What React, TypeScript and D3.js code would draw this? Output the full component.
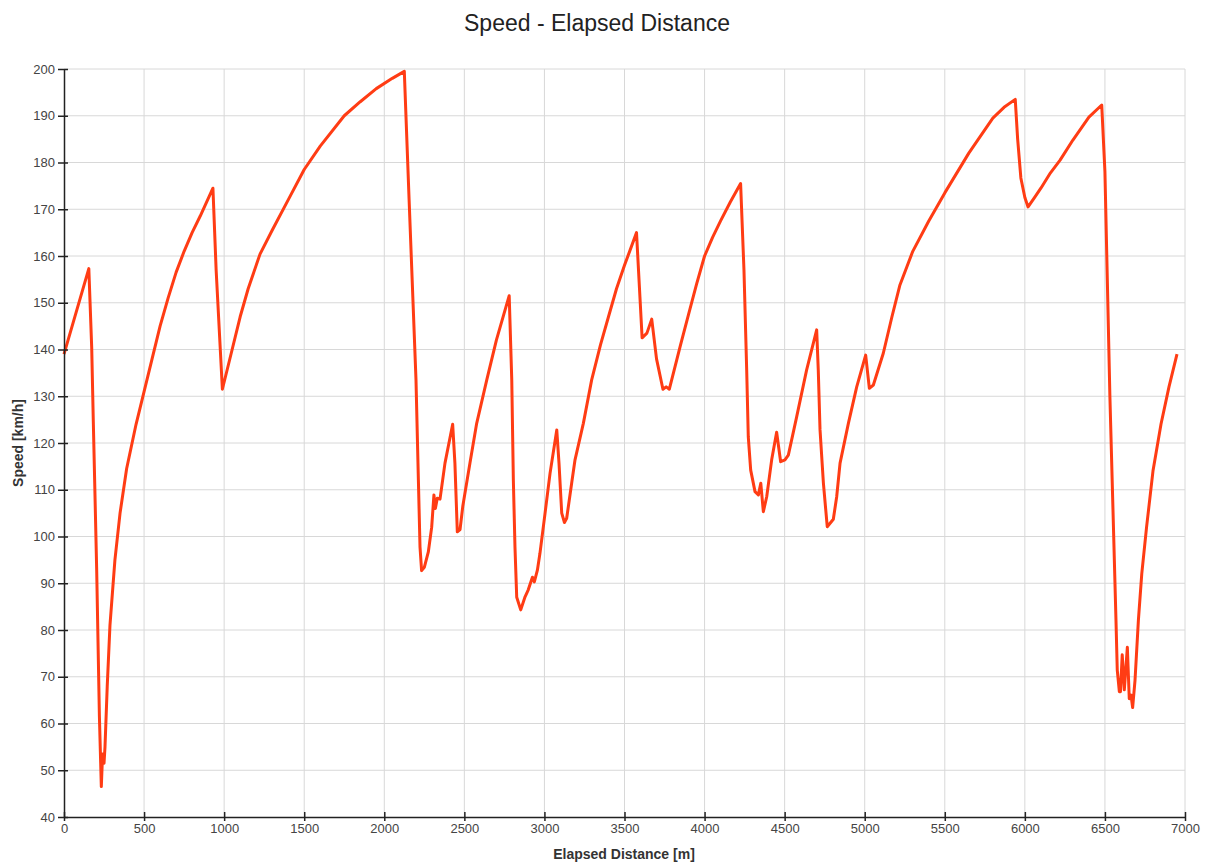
import React, { useRef, useEffect } from 'react';
import * as d3 from 'd3';

const distance = [
  0, 155, 173, 183, 204, 221, 233, 241, 250, 256, 270, 287, 318, 350, 391, 450, 500, 550, 600, 650, 700, 750, 800, 850, 930,
  950, 989, 1050, 1100, 1150, 1224, 1300, 1400, 1500, 1600, 1750, 1850, 1950, 2050, 2125, 2155, 2198, 2213, 2223, 2233, 2250, 2275,
  2296, 2310, 2319, 2331, 2348, 2379, 2427, 2441, 2456, 2473, 2490, 2500, 2535, 2577, 2640, 2700, 2780,
  2796, 2806, 2816, 2827, 2852, 2879, 2899, 2925, 2937, 2956, 2972, 3004, 3035, 3077, 3091, 3108, 3125,
  3139, 3170, 3191, 3243, 3295, 3350, 3400, 3450, 3500, 3575, 3610, 3640, 3670, 3700, 3740, 3760, 3780, 3850, 3900, 3950, 4000,
  4050, 4100, 4160, 4225, 4246, 4263, 4273, 4288, 4315, 4336, 4351, 4367, 4388, 4419, 4450, 4475, 4502, 4523, 4575,
  4637, 4700, 4710, 4721, 4742, 4766, 4804, 4825, 4846, 4898, 4950, 5006, 5029, 5054, 5116, 5170, 5220, 5300,
  5400, 5500, 5650, 5800, 5870, 5940, 5955, 5975, 6000, 6020, 6060, 6100, 6160, 6220, 6300, 6400, 6480, 6500, 6531, 6569,
  6577, 6590, 6597, 6608, 6621, 6640, 6652, 6663, 6673, 6688, 6709, 6730, 6760, 6800, 6850, 6900, 6950,
];

const speed = [
  139, 157.3, 140.4, 124.6, 93, 61.6, 46.5, 53.5, 51.5, 55, 68, 81, 95, 105, 114.5, 124, 131, 138, 145, 151, 156.5, 161, 165, 168.5, 174.5,
  157, 131.5, 140, 147, 153, 160.4, 165.5, 172, 178.5, 183.5, 190, 193, 195.8, 198, 199.5, 172, 133.5, 112, 97.8, 92.7, 93.4, 96.7,
  102, 108.9, 106, 108.2, 108, 115.7, 124, 115.7, 101, 101.5, 106.4, 108.5, 115.7, 124.2, 133.5, 142, 151.5,
  133.5, 112, 97.8, 87, 84.3, 87.1, 88.6, 91.3, 90.3, 92.8, 96.4, 105, 113.5, 122.8, 115.7, 105, 103,
  103.9, 111.4, 116.4, 124.2, 133.5, 141, 147, 153, 158, 165, 142.5, 143.5, 146.5, 138, 131.5, 132, 131.5, 141, 147.5, 154, 160,
  164, 167.5, 171.5, 175.5, 157, 135.6, 121.3, 114.2, 109.6, 108.9, 111.4, 105.3, 108.5, 116.4, 122.3, 116, 116.4, 117.4, 125.6,
  135.6, 144.2, 135.6, 122.8, 111.4, 102.1, 103.7, 108.5, 115.7, 124.2, 132, 138.8, 131.7, 132.4, 139.2, 147, 153.8, 161,
  167.5, 173.5, 182, 189.5, 191.8, 193.5, 185, 176.7, 172.5, 170.5, 172.5, 174.5, 177.8, 180.5, 184.8, 189.7, 192.3, 178, 130, 82.1,
  71.4, 66.8, 66.8, 74.7, 67.2, 76.3, 65.3, 66.1, 63.4, 69.3, 82.1, 92, 102, 114, 124, 132, 139,
];

const xTicks = d3.range(0, 7001, 500);
const yTicks = d3.range(40, 201, 10);

const W = 1206;
const H = 864;
const margin = { top: 69, right: 21, bottom: 47, left: 64 };
const FONT = 'Liberation Sans, Arial, sans-serif';

const SpeedChart: React.FC = () => {
  const svgRef = useRef<SVGSVGElement | null>(null);

  useEffect(() => {
    const svg = d3.select(svgRef.current!);
    svg.selectAll('*').remove();

    const x = d3.scaleLinear().domain([0, 7000]).range([margin.left, W - margin.right]);
    const y = d3.scaleLinear().domain([40, 200]).range([H - margin.bottom, margin.top]);

    svg.append('rect').attr('width', W).attr('height', H).attr('fill', '#fff');

    // grid
    const grid = svg.append('g').attr('stroke', '#d8d8d8').attr('stroke-width', 1);
    grid.selectAll('line.v')
      .data(xTicks.slice(1))
      .join('line')
      .attr('x1', (d) => x(d)).attr('x2', (d) => x(d))
      .attr('y1', y(40)).attr('y2', y(200));
    grid.selectAll('line.h')
      .data(yTicks.slice(1))
      .join('line')
      .attr('x1', x(0)).attr('x2', x(7000))
      .attr('y1', (d) => y(d)).attr('y2', (d) => y(d));

    const pts = distance.map((d, i) => [d, speed[i]] as [number, number]);
    const line = d3.line<[number, number]>()
      .x((d) => x(d[0]))
      .y((d) => y(d[1]));

    svg.append('path')
      .datum(pts)
      .attr('fill', 'none')
      .attr('stroke', '#ff3c14')
      .attr('stroke-width', 3)
      .attr('stroke-linejoin', 'round')
      .attr('d', line);

    const xAxis = svg.append('g')
      .attr('transform', `translate(0,${y(40)})`)
      .call(d3.axisBottom(x).tickValues(xTicks).tickFormat(d3.format('d')).tickSize(4).tickSizeOuter(0));
    const yAxis = svg.append('g')
      .attr('transform', `translate(${x(0)},0)`)
      .call(d3.axisLeft(y).tickValues(yTicks).tickSize(5).tickSizeOuter(0));

    [xAxis, yAxis].forEach((ax) => {
      ax.select('.domain').attr('stroke', '#222').attr('stroke-width', 1.5);
      ax.selectAll('.tick line').attr('stroke', '#222').attr('stroke-width', 1.5);
      ax.selectAll('.tick text')
        .attr('fill', '#444')
        .attr('font-size', 13)
        .attr('font-family', FONT);
    });
    xAxis.selectAll('.tick line').attr('y1', -5);
    yAxis.selectAll('.tick line').attr('x1', 4).attr('x2', -6);
    yAxis.selectAll('.tick text').attr('x', -9);

    svg.append('text')
      .attr('x', 597).attr('y', 31)
      .attr('text-anchor', 'middle')
      .attr('font-family', FONT)
      .attr('font-size', 23)
      .attr('fill', '#222')
      .text('Speed - Elapsed Distance');

    svg.append('text')
      .attr('x', 624).attr('y', 859)
      .attr('text-anchor', 'middle')
      .attr('font-family', FONT)
      .attr('font-size', 14)
      .attr('font-weight', 'bold')
      .attr('fill', '#333')
      .text('Elapsed Distance [m]');

    svg.append('text')
      .attr('transform', `translate(23,${(y(40) + y(200)) / 2}) rotate(-90)`)
      .attr('text-anchor', 'middle')
      .attr('font-family', FONT)
      .attr('font-size', 14)
      .attr('font-weight', 'bold')
      .attr('fill', '#333')
      .text('Speed [km/h]');
  }, []);

  return (
    <svg
      ref={svgRef}
      width={W}
      height={H}
      style={{ position: 'absolute', left: 0, top: 0 }}
    ></svg>
  );
};

export default function App() {
  return <SpeedChart />;
}
